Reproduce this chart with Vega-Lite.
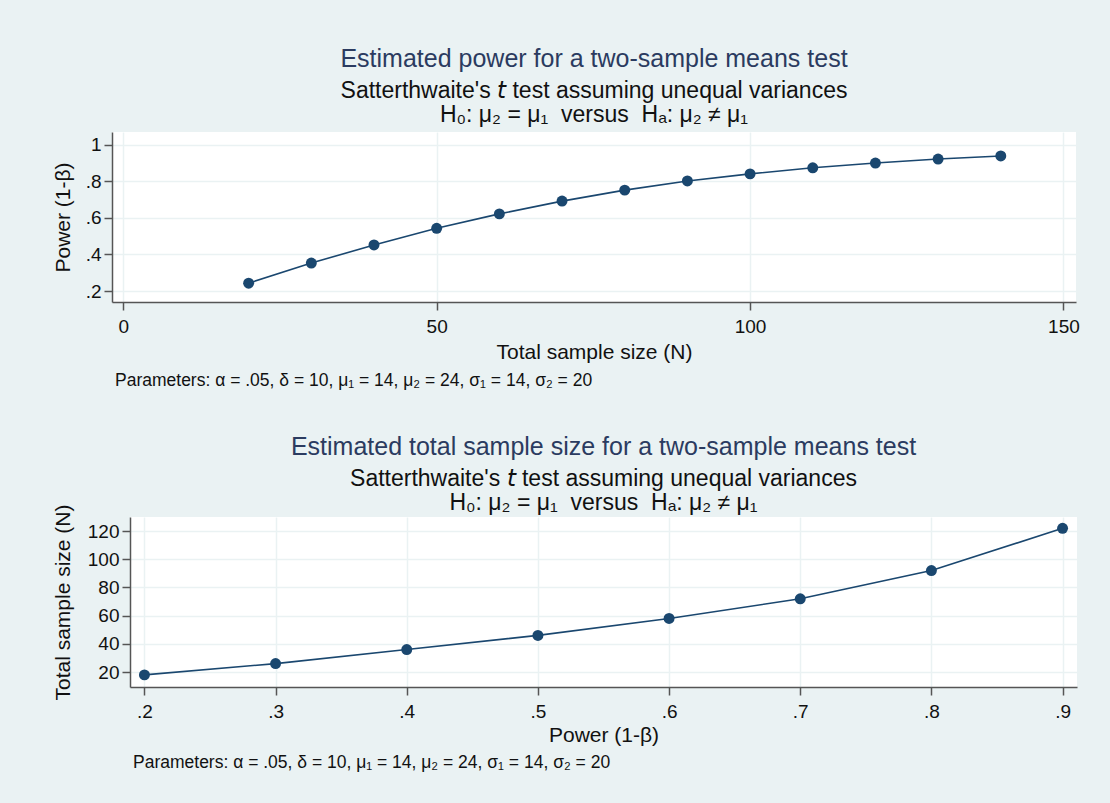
{
  "$schema": "https://vega.github.io/schema/vega-lite/v6.json",
  "background": "#eaf2f3",
  "padding": {"left": 51, "top": 47, "right": 30, "bottom": 48},
  "config": {
    "font": "Liberation Sans",
    "view": {"fill": "white", "stroke": null},
    "axis": {
      "domainColor": "#555555", "domainWidth": 1.5,
      "tickColor": "#555555", "tickWidth": 1.5, "tickSize": 8,
      "labelFontSize": 19, "labelColor": "#111111", "labelFont": "Liberation Sans",
      "titleFontSize": 21, "titleColor": "#111111", "titleFont": "Liberation Sans", "titleFontWeight": "normal",
      "gridColor": "#eaf2f3", "gridWidth": 1.5, "grid": true
    },
    "axisY": {"labelPadding": 3},
    "axisX": {"labelPadding": 7, "titlePadding": 5},
    "title": {
      "font": "Liberation Sans", "fontSize": 25, "fontWeight": "normal", "color": "#2b3b60",
      "subtitleFont": "Liberation Sans", "subtitleFontSize": 23, "subtitleColor": "#111111",
      "subtitleLineHeight": 24, "subtitlePadding": 8, "anchor": "middle", "frame": "group", "offset": 5
    }
  },
  "vconcat": [
    {
      "spacing": 0,
      "hconcat": [
        {
          "width": 1, "height": 1,
          "view": {"fill": null, "stroke": null},
          "data": {"values": []},
          "mark": {"type": "point", "opacity": 0}
        },
        {
          "title": {"text": "Parameters: α = .05, δ = 10, μ₁ = 14, μ₂ = 24, σ₁ = 14, σ₂ = 20", "orient": "bottom", "anchor": "start", "fontSize": 17.5, "color": "#111111", "offset": 10, "dx": 3},
          "vconcat": [
            {
              "width": 964, "height": 170,
              "title": {"text": "Estimated power for a two-sample means test", "subtitle": ["Satterthwaite's 𝘵 test assuming unequal variances", "H₀: μ₂ = μ₁\u00a0 versus\u00a0 Hₐ: μ₂ ≠ μ₁"]},
              "data": {"values": [
                {"N": 20, "power": 0.243}, {"N": 30, "power": 0.353}, {"N": 40, "power": 0.452},
                {"N": 50, "power": 0.543}, {"N": 60, "power": 0.622}, {"N": 70, "power": 0.692},
                {"N": 80, "power": 0.752}, {"N": 90, "power": 0.802}, {"N": 100, "power": 0.841},
                {"N": 110, "power": 0.874}, {"N": 120, "power": 0.900}, {"N": 130, "power": 0.922},
                {"N": 140, "power": 0.939}
              ]},
              "encoding": {
                "x": {"field": "N", "type": "quantitative", "scale": {"domain": [-1.8, 152], "nice": false, "zero": false},
                      "axis": {"values": [0, 50, 100, 150], "title": "Total sample size (N)"}},
                "y": {"field": "power", "type": "quantitative", "scale": {"domain": [0.14, 1.07], "nice": false, "zero": false},
                      "axis": {"values": [0.2, 0.4, 0.6, 0.8, 1], "labelExpr": "replace(format(datum.value, '.1~f'), '0.', '.')", "title": "Power (1-β)", "titlePadding": 12}}
              },
              "layer": [
                {"mark": {"type": "line", "color": "#1a476f", "strokeWidth": 1.6}},
                {"mark": {"type": "point", "filled": true, "size": 120, "color": "#1a476f", "opacity": 1}}
              ]
            }
          ]
        }
      ]
    },
    {
      "spacing": 0,
      "hconcat": [
        {
          "width": 1, "height": 1,
          "view": {"fill": null, "stroke": null},
          "data": {"values": []},
          "mark": {"type": "point", "opacity": 0}
        },
        {
          "title": {"text": "Parameters: α = .05, δ = 10, μ₁ = 14, μ₂ = 24, σ₁ = 14, σ₂ = 20", "orient": "bottom", "anchor": "start", "fontSize": 17.5, "color": "#111111", "offset": 9, "dx": 3},
          "vconcat": [
            {
              "width": 947, "height": 170,
              "title": {"text": "Estimated total sample size for a two-sample means test", "subtitle": ["Satterthwaite's 𝘵 test assuming unequal variances", "H₀: μ₂ = μ₁\u00a0 versus\u00a0 Hₐ: μ₂ ≠ μ₁"], "offset": -11},
              "data": {"values": [
                {"power": 0.2, "N": 18}, {"power": 0.3, "N": 26}, {"power": 0.4, "N": 36},
                {"power": 0.5, "N": 46}, {"power": 0.6, "N": 58}, {"power": 0.7, "N": 72},
                {"power": 0.8, "N": 92}, {"power": 0.9, "N": 122}
              ]},
              "encoding": {
                "x": {"field": "power", "type": "quantitative", "scale": {"domain": [0.189, 0.911], "nice": false, "zero": false},
                      "axis": {"values": [0.2, 0.3, 0.4, 0.5, 0.6, 0.7, 0.8, 0.9], "labelExpr": "replace(format(datum.value, '.1~f'), '0.', '.')", "title": "Power (1-β)", "titlePadding": 3}},
                "y": {"field": "N", "type": "quantitative", "scale": {"domain": [9.4, 130], "nice": false, "zero": false},
                      "axis": {"values": [20, 40, 60, 80, 100, 120], "title": "Total sample size (N)", "titlePadding": 14}}
              },
              "layer": [
                {"mark": {"type": "line", "color": "#1a476f", "strokeWidth": 1.6}},
                {"mark": {"type": "point", "filled": true, "size": 120, "color": "#1a476f", "opacity": 1}}
              ]
            }
          ]
        }
      ]
    }
  ],
  "spacing": 44
}
